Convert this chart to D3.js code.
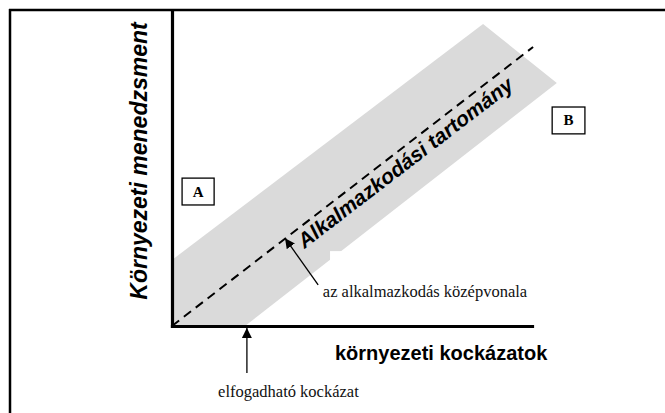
<!DOCTYPE html>
<html>
<head>
<meta charset="utf-8">
<script src="https://cdn.jsdelivr.net/npm/d3@7/dist/d3.min.js"></script>
<style>
  html, body { margin: 0; padding: 0; background: #fff; }
  svg { display: block; }
</style>
</head>
<body>
<svg id="chart" width="665" height="413"></svg>
<script>
// ---- data (in chart units: x = környezeti kockázatok, y = környezeti menedzsment) ----
const xDomain = [0, 100];
const yDomain = [0, 100];
const bandPolygon = [[0, 0], [0, 20.9], [86.4, 95.6], [106.9, 76.9], [20.3, 0]];
const midline = [[0, 0], [100.3, 88.3]];
const notch = [[43.9, 23.7], [48.0, 20.3]];
const boxLabels = ["A", "B"];
const boxRects = [[2.8, 46.8, 11.7, 38.3], [105.6, 69.3, 114.7, 60.8]];
const axisTitles = ["környezeti kockázatok", "Környezeti menedzsment"];
const bandTitle = "Alkalmazkodási tartomány";
const bandTitlePos = [36.8, 24.4];
const annotations = ["az alkalmazkodás középvonala", "elfogadható kockázat"];
const annoArrows = [[[40.6, 13.0], [31.4, 27.8]], [[20.8, -14.9], [20.8, -0.6]]];
const annoText = [[41.9, 9.2], [12.8, -22.5]];

const svg = d3.select("#chart");
const x = d3.scaleLinear().domain(xDomain).range([172, 532]);
const y = d3.scaleLinear().domain(yDomain).range([326, 10]);

// frame
svg.append("line").attr("x1", 9).attr("x2", 665).attr("y1", 10).attr("y2", 10)
  .attr("stroke", "#000").attr("stroke-width", 2.5);
svg.append("line").attr("x1", 10).attr("x2", 10).attr("y1", 9).attr("y2", 413)
  .attr("stroke", "#000").attr("stroke-width", 2.5);

// band
svg.append("polygon")
  .attr("points", bandPolygon.map(p => [x(p[0]), y(p[1])].join(",")).join(" "))
  .attr("fill", "#dadada");
svg.append("rect")
  .attr("x", x(notch[0][0])).attr("y", y(notch[0][1]))
  .attr("width", x(notch[1][0]) - x(notch[0][0]))
  .attr("height", y(notch[1][1]) - y(notch[0][1]))
  .attr("fill", "#fff");

// midline
svg.append("path")
  .attr("d", d3.line().x(d => x(d[0])).y(d => y(d[1]))(midline))
  .attr("stroke", "#000").attr("stroke-width", 2)
  .attr("stroke-dasharray", "9,6").attr("fill", "none");

// axes
const gx = svg.append("g").attr("transform", `translate(0,${y(0)})`)
  .call(d3.axisBottom(x).tickValues([]).tickSizeOuter(0));
const gy = svg.append("g").attr("transform", `translate(${x(0)},0)`)
  .call(d3.axisLeft(y).tickValues([]).tickSizeOuter(0));
[gx, gy].forEach(g => g.select(".domain").attr("stroke", "#000").attr("stroke-width", 3.2)
  .attr("stroke-linecap", "square"));

// boxes
boxRects.forEach((r, i) => {
  const x0 = x(r[0]), y0 = y(r[1]), x1 = x(r[2]), y1 = y(r[3]);
  svg.append("rect").attr("x", x0).attr("y", y0).attr("width", x1 - x0).attr("height", y1 - y0)
    .attr("fill", "#fff").attr("stroke", "#000").attr("stroke-width", 1.3);
  svg.append("text").attr("x", (x0 + x1) / 2).attr("y", (y0 + y1) / 2 + 5)
    .attr("text-anchor", "middle")
    .attr("font-family", "Liberation Serif, Times New Roman, serif")
    .attr("font-weight", "bold").attr("font-size", 15).text(boxLabels[i]);
});

// axis titles
svg.append("text").attr("x", 335).attr("y", 360)
  .attr("font-family", "Liberation Sans, Arial, sans-serif")
  .attr("font-weight", "bold").attr("font-size", 20).attr("fill", "#000")
  .text(axisTitles[0]);
svg.append("text")
  .attr("transform", "translate(147,161) rotate(-90)")
  .attr("text-anchor", "middle")
  .attr("font-family", "Liberation Sans, Arial, sans-serif")
  .attr("font-weight", "bold").attr("font-style", "italic").attr("font-size", 23)
  .text(axisTitles[1]);

// band title
svg.append("text")
  .attr("transform", `translate(${x(bandTitlePos[0])},${y(bandTitlePos[1])}) rotate(-37.5)`)
  .attr("font-family", "Liberation Sans, Arial, sans-serif")
  .attr("font-weight", "bold").attr("font-style", "italic").attr("font-size", 21)
  .text(bandTitle);

// arrows
const defs = svg.append("defs");
defs.append("marker").attr("id", "ah").attr("viewBox", "0 0 10 10")
  .attr("refX", 10).attr("refY", 5).attr("markerWidth", 10).attr("markerHeight", 10)
  .attr("markerUnits", "userSpaceOnUse").attr("orient", "auto")
  .append("path").attr("d", "M0,0 L10,5 L0,10 Z").attr("fill", "#000");
annoArrows.forEach((a, i) => {
  svg.append("line")
    .attr("x1", x(a[0][0])).attr("y1", y(a[0][1]))
    .attr("x2", x(a[1][0])).attr("y2", y(a[1][1]))
    .attr("stroke", i === 0 ? "#000" : "#333").attr("stroke-width", i === 0 ? 1.3 : 1.6)
    .attr("marker-end", "url(#ah)");
});
annotations.forEach((t, i) => {
  svg.append("text").attr("x", x(annoText[i][0])).attr("y", y(annoText[i][1]))
    .attr("font-family", "Liberation Serif, Times New Roman, serif")
    .attr("font-size", 16.5).attr("fill", "#111").text(t);
});
</script>
</body>
</html>
